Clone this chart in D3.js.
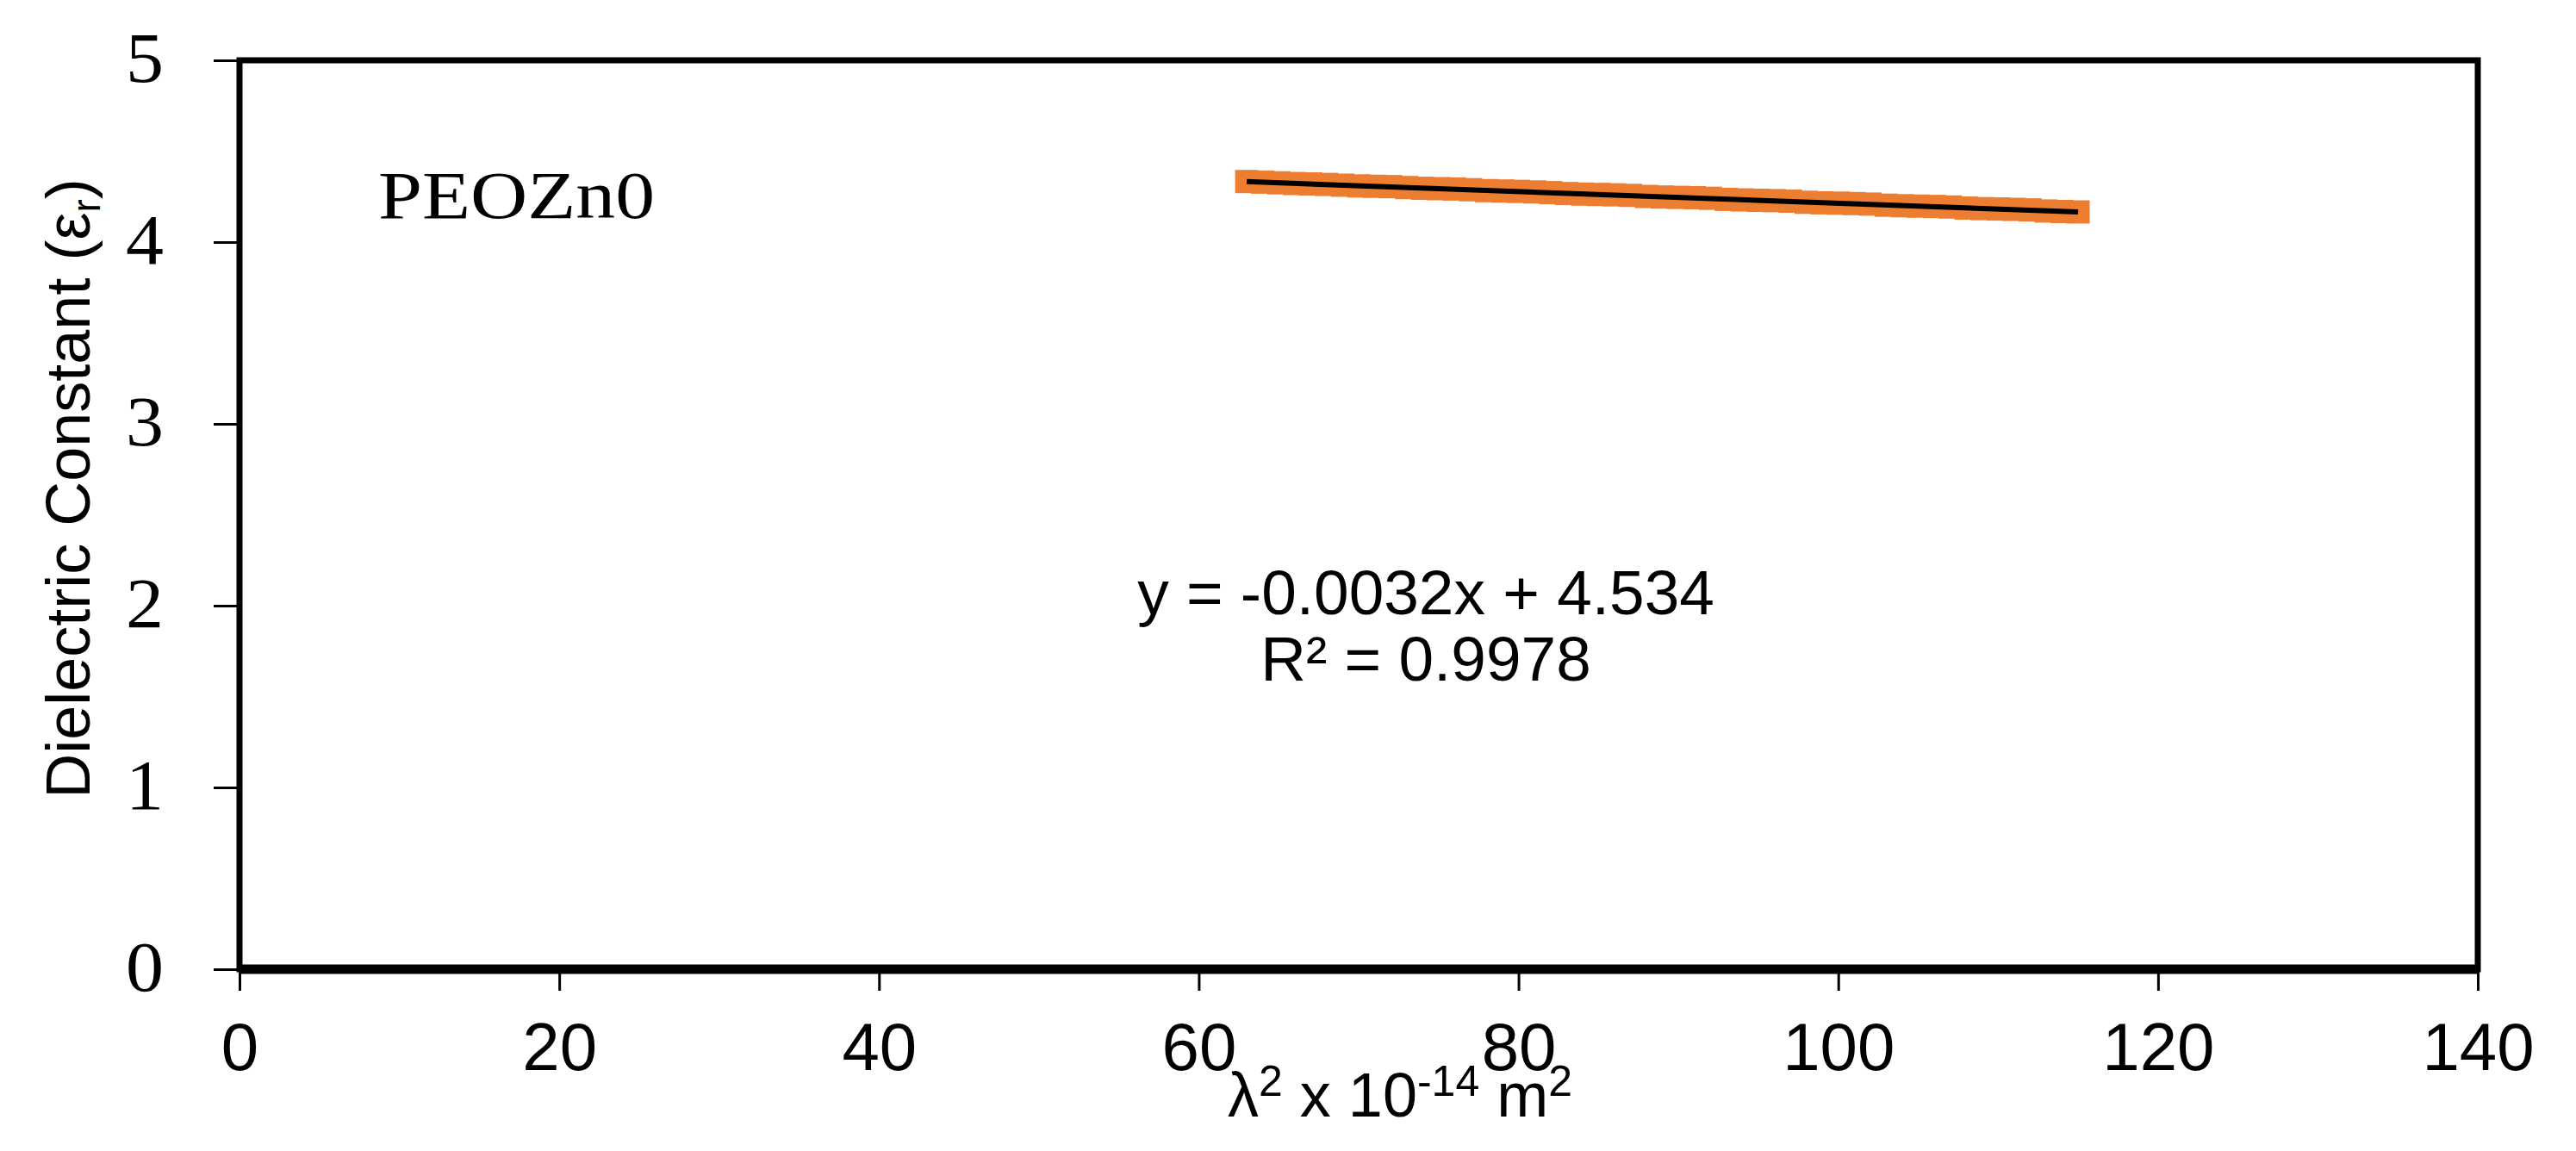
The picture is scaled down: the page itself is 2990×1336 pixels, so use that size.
<!DOCTYPE html>
<html>
<head>
<meta charset="utf-8">
<script src="https://cdn.jsdelivr.net/npm/d3@7"></script>
<style>
  html, body { margin: 0; padding: 0; background: #fff; }
  svg { display: block; }
</style>
</head>
<body>
<div id="chart"></div>
<script>
// datos
const lambda2 = [63, 64, 65, 66, 67, 68, 69, 70, 71, 72, 73, 74, 75, 76, 77, 78, 79, 80,
  81, 82, 83, 84, 85, 86, 87, 88, 89, 90, 91, 92, 93, 94, 95, 96, 97, 98, 99, 100,
  101, 102, 103, 104, 105, 106, 107, 108, 109, 110, 111, 112, 113, 114, 115];
const epsilon = [4.333, 4.330, 4.326, 4.322, 4.320, 4.317, 4.313, 4.309, 4.307, 4.305, 4.300, 4.296, 4.294, 4.292, 4.288, 4.283, 4.281, 4.279,
  4.276, 4.272, 4.267, 4.264, 4.262, 4.260, 4.257, 4.251, 4.248, 4.246, 4.244, 4.241, 4.235, 4.232, 4.230, 4.228, 4.225, 4.219, 4.216, 4.214,
  4.212, 4.209, 4.203, 4.200, 4.198, 4.196, 4.193, 4.187, 4.184, 4.182, 4.180, 4.177, 4.171, 4.168, 4.166];
const xTicks = [0, 20, 40, 60, 80, 100, 120, 140];
const yTicks = [0, 1, 2, 3, 4, 5];
const fitSlope = -0.0032;
const fitIntercept = 4.534;
const fitLabel = ["y = -0.0032x + 4.534", "R² = 0.9978"];
const sampleName = "PEOZn0";

const W = 2990, H = 1336;
const SERIF = "'Liberation Serif', 'Times New Roman', serif";
const SANS = "'Liberation Sans', Arial, sans-serif";

const svg = d3.select('#chart').append('svg')
  .attr('width', W).attr('height', H)
  .attr('viewBox', `0 0 ${W} ${H}`);

const x = d3.scaleLinear().domain([0, 140]).range([278, 2876]);
const y = d3.scaleLinear().domain([0, 5]).range([1125, 70]);

// --- ejes ---
const gx = svg.append('g')
  .attr('transform', `translate(0,${y(0)})`)
  .call(d3.axisBottom(x).tickValues(xTicks).tickFormat(d3.format('d')).tickSize(25).tickPadding(37));
gx.select('.domain').remove();
gx.selectAll('.tick line').attr('stroke', '#000').attr('stroke-width', 3);
gx.selectAll('.tick text')
  .attr('font-family', SANS).attr('font-size', 78).attr('fill', '#000');

const gy = svg.append('g')
  .attr('transform', `translate(${x(0)},0)`)
  .call(d3.axisLeft(y).tickValues(yTicks).tickFormat(d3.format('d')).tickSize(30).tickPadding(58));
gy.select('.domain').remove();
gy.selectAll('.tick line').attr('stroke', '#000').attr('stroke-width', 3);
gy.selectAll('.tick text')
  .attr('font-family', SERIF).attr('font-size', 82).attr('fill', '#000')
  .attr('dy', '0.30em')
  .attr('textLength', 44).attr('lengthAdjust', 'spacingAndGlyphs');

// marco del area de trazado
svg.append('rect')
  .attr('x', x(0)).attr('y', y(5))
  .attr('width', x(140) - x(0)).attr('height', y(0) - y(5))
  .attr('fill', 'none').attr('stroke', '#000').attr('stroke-width', 7);
svg.append('line')
  .attr('x1', x(0)).attr('x2', x(140))
  .attr('y1', y(0)).attr('y2', y(0))
  .attr('stroke', '#000').attr('stroke-width', 11);

// --- puntos (cuadrados naranjas) ---
const pts = lambda2.map((v, i) => ({ x: v, y: epsilon[i] }));
const s = 27;
svg.append('g').selectAll('rect')
  .data(pts)
  .join('rect')
  .attr('x', d => x(d.x) - s / 2)
  .attr('y', d => y(d.y) - s / 2)
  .attr('width', s).attr('height', s)
  .attr('fill', '#ED7D31');

// --- linea de tendencia ---
const xMin = d3.min(lambda2), xMax = d3.max(lambda2);
svg.append('line')
  .attr('x1', x(xMin)).attr('y1', y(fitSlope * xMin + fitIntercept))
  .attr('x2', x(xMax)).attr('y2', y(fitSlope * xMax + fitIntercept))
  .attr('stroke', '#000').attr('stroke-width', 6);

// --- textos ---
svg.append('text')
  .attr('x', 439).attr('y', 253)
  .attr('font-family', SERIF).attr('font-size', 79)
  .attr('textLength', 321).attr('lengthAdjust', 'spacingAndGlyphs')
  .text(sampleName);

svg.append('g').selectAll('text')
  .data(fitLabel)
  .join('text')
  .attr('x', 1655)
  .attr('y', (d, i) => 713 + i * 77)
  .attr('text-anchor', 'middle')
  .attr('font-family', SANS).attr('font-size', 73)
  .text(d => d);

// titulo eje x: λ² x 10⁻¹⁴ m²
const xl = svg.append('text')
  .attr('x', 1625).attr('y', 1296)
  .attr('text-anchor', 'middle')
  .attr('font-family', SANS).attr('font-size', 72);
xl.append('tspan').text('λ');
xl.append('tspan').attr('font-size', 50).attr('dy', -24).text('2');
xl.append('tspan').attr('dy', 24).text(' x 10');
xl.append('tspan').attr('font-size', 50).attr('dy', -24).text('-14');
xl.append('tspan').attr('dy', 24).text(' m');
xl.append('tspan').attr('font-size', 50).attr('dy', -24).text('2');

// titulo eje y: Dielectric Constant (εr)
const yl = svg.append('text')
  .attr('transform', 'translate(104,567) rotate(-90)')
  .attr('text-anchor', 'middle')
  .attr('font-family', SANS).attr('font-size', 72);
yl.append('tspan').text('Dielectric Constant (ε');
yl.append('tspan').attr('font-size', 46).attr('dy', 12).text('r');
yl.append('tspan').attr('dy', -12).text(')');
</script>
</body>
</html>
